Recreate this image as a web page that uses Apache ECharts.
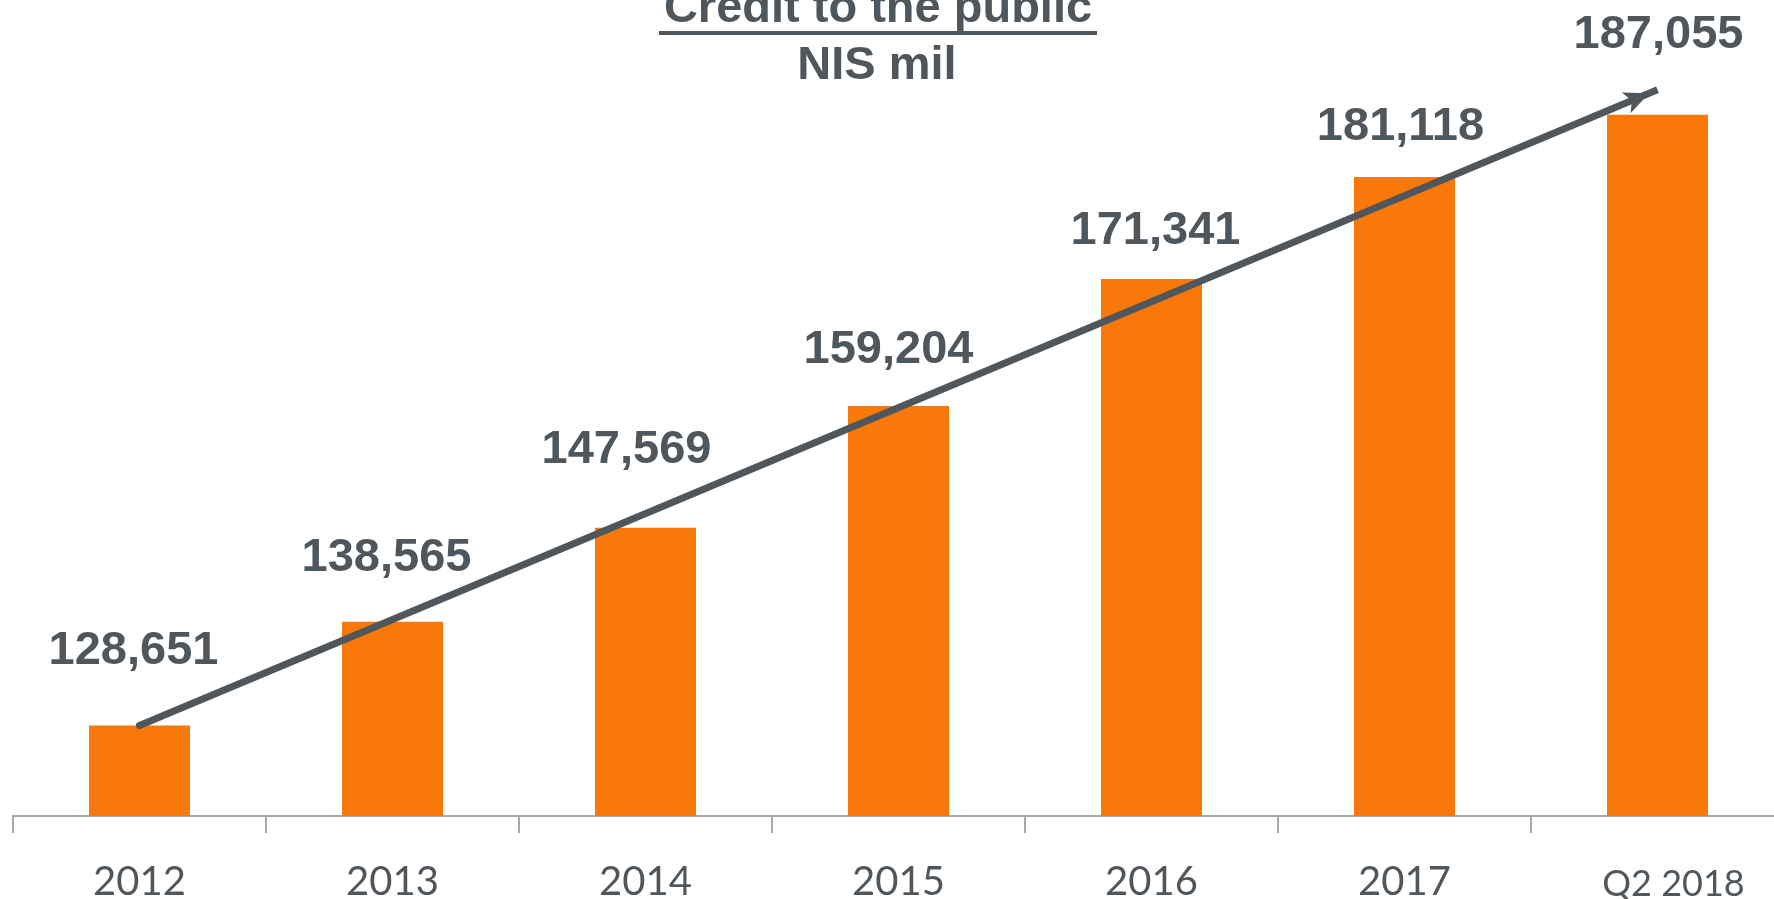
<!DOCTYPE html>
<html>
<head>
<meta charset="utf-8">
<script src="https://cdn.jsdelivr.net/npm/echarts@6/dist/echarts.min.js"></script>
<style>
html,body{margin:0;padding:0;background:#fff;}
#chart{width:1774px;height:899px;}
</style>
</head>
<body>
<div id="chart"></div>
<script>
// ---- data ----
const categories = ['2012', '2013', '2014', '2015', '2016', '2017', 'Q2 2018'];
const creditValues = [128651, 138565, 147569, 159204, 171341, 181118, 187055];
const titleLines = ['Credit to the public', 'NIS mil'];
const arrowEndValue = 189450;

// ---- label styling (pixel gaps, not data) ----
const labelGap = [51, 40, 54, 32, 25, 26, 56];
const labelShiftX = [-6, -6, -19, -10, 4, -4, 1];

const textColor = '#4f565c';
const barColor = '#f8790a';
const axisColor = '#a8a8a8';

const chart = echarts.init(document.getElementById('chart'), null, {renderer: 'canvas'});

const seriesData = creditValues.map((v, i) => ({
  value: v,
  label: {distance: labelGap[i], offset: [labelShiftX[i], 0]}
}));

chart.setOption({
  animation: false,
  grid: {left: 13, top: 84, width: 1771, bottom: 83, containLabel: false, outerBoundsMode: 'none'},
  xAxis: {
    type: 'category',
    data: categories,
    boundaryGap: true,
    axisLine: {show: true, lineStyle: {color: axisColor, width: 2}},
    axisTick: {show: true, length: 17, lineStyle: {color: axisColor, width: 2}},
    axisLabel: {
      margin: 46,
      color: textColor,
      fontFamily: 'Lato',
      fontSize: 40,
      interval: 0,
      formatter: function (v) {
        return v.indexOf('Q2') === 0 ? '{q|' + v + '}' : v;
      },
      rich: {
        q: {fontFamily: 'Lato', fontSize: 36, color: textColor, padding: [4, 0, 0, 32]}
      }
    }
  },
  yAxis: {
    type: 'value',
    min: 120000,
    max: 190000,
    show: false,
    splitLine: {show: false}
  },
  series: [{
    type: 'bar',
    data: seriesData,
    barWidth: 101,
    itemStyle: {color: barColor},
    label: {
      show: true,
      position: 'top',
      color: textColor,
      fontFamily: 'Liberation Sans, Arial, sans-serif',
      fontWeight: 'bold',
      fontSize: 47,
      formatter: function (p) { return p.value.toLocaleString('en-US'); }
    },
    markLine: {
      silent: true,
      animation: false,
      symbol: ['circle', 'arrow'],
      label: {show: false},
      lineStyle: {color: textColor, width: 7, type: 'solid', cap: 'butt'},
      emphasis: {disabled: true},
      data: [[
        {coord: [categories[0], creditValues[0]], symbol: 'circle', symbolSize: 7},
        {coord: [categories[categories.length - 1], arrowEndValue], symbol: 'arrow',
         symbolSize: [17, 25], symbolOffset: [0, 9]}
      ]]
    }
  }],
  graphic: [
    {
      type: 'text', x: 878, y: 9,
      style: {
        text: titleLines[0], fill: textColor, align: 'center', verticalAlign: 'middle',
        font: 'bold 47px "Liberation Sans", Arial, sans-serif'
      }
    },
    {
      type: 'rect', x: 659, y: 31,
      shape: {width: 438, height: 4},
      style: {fill: textColor}
    },
    {
      type: 'text', x: 877, y: 66,
      style: {
        text: titleLines[1], fill: textColor, align: 'center', verticalAlign: 'middle',
        font: 'bold 47px "Liberation Sans", Arial, sans-serif'
      }
    }
  ]
});
</script>
</body>
</html>
